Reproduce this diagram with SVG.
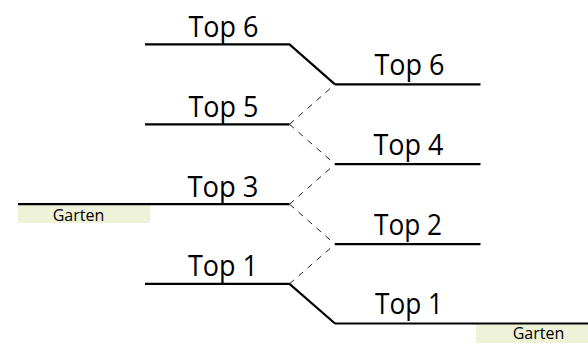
<svg xmlns="http://www.w3.org/2000/svg" width="588" height="349" viewBox="0 0 588 349">
<style>
.track{fill:none;stroke:#000;stroke-width:2.2;stroke-linejoin:miter}
.switch{fill:none;stroke:#222;stroke-width:1;stroke-dasharray:6,6}
.lbl{font-family:"Open Sans","Noto Sans",sans-serif;font-size:28.5px;fill:#000;text-anchor:middle}
.gbox{fill:#edf2d9;stroke:none}
.gtxt{font-family:"Open Sans","Noto Sans",sans-serif;font-size:16px;fill:#000;text-anchor:middle}
</style>
<rect width="588" height="349" fill="#fff"/>
<g id="garten-left">
<rect class="gbox" x="18" y="205" width="132" height="18"/>
<text class="gtxt" x="78.5" y="221">Garten</text>
</g>
<g id="garten-right">
<rect class="gbox" x="476" y="324" width="112" height="19"/>
<text class="gtxt" x="538.5" y="339">Garten</text>
</g>
<g id="connectors">
<path class="track" d="M145,44.3 H289.5 L335,84.3"/>
<path class="track" d="M145,283.8 H289.5 L335,323.5"/>
<path class="switch" d="M289.5,124.3 L335,84.3"/>
<path class="switch" d="M289.5,124.3 L335,164.2"/>
<path class="switch" d="M289.5,204.2 L335,164.2"/>
<path class="switch" d="M289.5,204.2 L335,244.2"/>
<path class="switch" d="M289.5,283.8 L335,244.2"/>
</g>
<g id="left-top6">
<text class="lbl" x="223.5" y="36.5" textLength="70" lengthAdjust="spacingAndGlyphs">Top 6</text>
</g>
<g id="left-top5">
<path class="track" d="M145,124.3 H289.5"/>
<text class="lbl" x="223.5" y="116.5" textLength="70" lengthAdjust="spacingAndGlyphs">Top 5</text>
</g>
<g id="left-top3">
<path class="track" d="M18,204.2 H289.5"/>
<text class="lbl" x="223" y="196.5" textLength="71" lengthAdjust="spacingAndGlyphs">Top 3</text>
</g>
<g id="left-top1">
<text class="lbl" x="223" y="275.5" textLength="70" lengthAdjust="spacingAndGlyphs">Top 1</text>
</g>
<g id="right-top6">
<path class="track" d="M335,84.3 H480.5"/>
<text class="lbl" x="409.5" y="75" textLength="70" lengthAdjust="spacingAndGlyphs">Top 6</text>
</g>
<g id="right-top4">
<path class="track" d="M335,164.2 H480.5"/>
<text class="lbl" x="408.5" y="155" textLength="70" lengthAdjust="spacingAndGlyphs">Top 4</text>
</g>
<g id="right-top2">
<path class="track" d="M335,244.2 H480.5"/>
<text class="lbl" x="408" y="235" textLength="68" lengthAdjust="spacingAndGlyphs">Top 2</text>
</g>
<g id="right-top1">
<path class="track" d="M335,323.5 H588"/>
<text class="lbl" x="409" y="314" textLength="68" lengthAdjust="spacingAndGlyphs">Top 1</text>
</g>
</svg>
